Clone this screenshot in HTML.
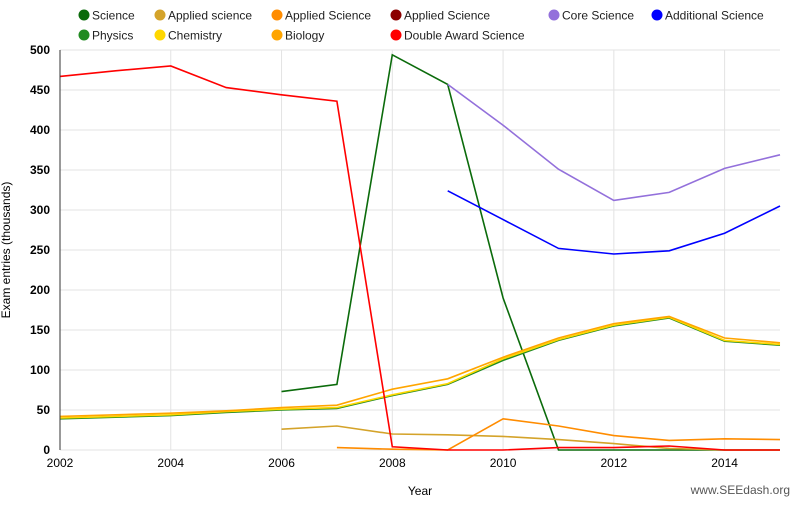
<!DOCTYPE html>
<html><head><meta charset="utf-8"><style>
body{margin:0;background:#fff;font-family:"Liberation Sans",Arial,sans-serif}
svg text{font-family:"Liberation Sans",Arial,sans-serif}
</style></head><body>
<svg id="chart" width="800" height="500" xmlns="http://www.w3.org/2000/svg">
<g id="grid"></g>
<g id="lines"></g>
<g id="axes"></g>
<g id="legend"></g>
<text x="420" y="495" font-size="12" text-anchor="middle">Year</text>
<text transform="translate(10,250) rotate(-90)" font-size="12" text-anchor="middle">Exam entries (thousands)</text>
<text x="790" y="494" font-size="12" fill="#555" text-anchor="end">www.SEEdash.org</text>
</svg>
<script>
const years=[2002,2003,2004,2005,2006,2007,2008,2009,2010,2011,2012,2013,2014,2015];
const yTicks=[0,50,100,150,200,250,300,350,400,450,500];
const xTicks=[2002,2004,2006,2008,2010,2012,2014];
const science=[null,null,null,null,73,82,494,457,190,0,0,0,0,0];
const appliedScienceA=[null,null,null,null,26,30,20,19,17,13,8,2,0,0];
const appliedScienceB=[null,null,null,null,null,3,1,0,39,30,18,12,14,13];
const coreScience=[null,null,null,null,null,null,null,457,406,351,312,322,352,369];
const additionalScience=[null,null,null,null,null,null,null,324,288,252,245,249,271,305];
const physics=[39,41,43,47,50,52,68,82,112,137,155,165,136,131];
const chemistry=[40,42,44,48,51,53,69,83,114,138,156,166,137,132];
const biology=[42,44,46,49,53,56,76,89,116,140,158,167,140,134];
const doubleAward=[467,474,480,453,444,436,4,0,0,3,3,5,0,0];

const X0=60,X1=780,Y0=450,Y1=50;
const xs=y=>X0+(y-2002)/(2015-2002)*(X1-X0);
const ys=v=>Y0-v/500*(Y0-Y1);
const NS="http://www.w3.org/2000/svg";
function mk(tag,attrs,parent){const e=document.createElementNS(NS,tag);for(const k in attrs)e.setAttribute(k,attrs[k]);parent.appendChild(e);return e;}
const grid=document.getElementById('grid'),axes=document.getElementById('axes'),lines=document.getElementById('lines'),legend=document.getElementById('legend');
yTicks.forEach(t=>{
  const l=mk('line',{x1:X0,x2:X1,y1:ys(t),y2:ys(t),stroke:'#e3e3e3'},grid);
  
  
  const tx=mk('text',{x:50,y:ys(t)+4,'font-size':12,'font-weight':'bold','text-anchor':'end'},axes);
  tx.textContent=t;
  
  
});
xTicks.forEach(t=>{
  const l=mk('line',{x1:xs(t),x2:xs(t),y1:Y1,y2:Y0,stroke:'#e3e3e3'},grid);
  
  
  const tx=mk('text',{x:xs(t),y:Y0+17,'font-size':12,'text-anchor':'middle'},axes);
  tx.textContent=t;
  
  
});
const ax=mk('line',{x1:X0,x2:X0,y1:Y1,y2:Y0,stroke:'#333'},axes);


const series=[
 ['science',science,'#0b6b0b'],['applied-science-a',appliedScienceA,'#d4a32a'],['applied-science-b',appliedScienceB,'#ff8c00'],
 ['core-science',coreScience,'#9370db'],['additional-science',additionalScience,'#0000ff'],
 ['physics',physics,'#228b22'],['chemistry',chemistry,'#ffd700'],['biology',biology,'#ffa500'],['double-award-science',doubleAward,'#ff0000']];
series.forEach(([name,vals,col])=>{
  let d='',pen=false;
  vals.forEach((v,i)=>{if(v==null){pen=false;return;}d+=(pen?'L':'M')+xs(years[i]).toFixed(1)+','+ys(v).toFixed(1);pen=true;});
  const p=mk('path',{d:d,fill:'none',stroke:col,'stroke-width':1.6},lines);
  
  
});
const leg=[['Science','#0b6b0b',77,15],['Applied science','#d4a32a',153,15],['Applied Science','#ff8c00',270,15],['Applied Science','#8b0000',389,15],['Core Science','#9370db',547,15],['Additional Science','#0000ff',650,15],
 ['Physics','#228b22',77,35],['Chemistry','#ffd700',153,35],['Biology','#ffa500',270,35],['Double Award Science','#ff0000',389,35]];
leg.forEach(([t,c,x,y])=>{
  const g=mk('g',{},legend);
  
  
  mk('circle',{cx:x+7,cy:y,r:5.5,fill:c},g);
  const tx=mk('text',{x:x+15,y:y+4.5,'font-size':12,fill:'#222'},g);tx.textContent=t;
});
</script>
</body></html>
